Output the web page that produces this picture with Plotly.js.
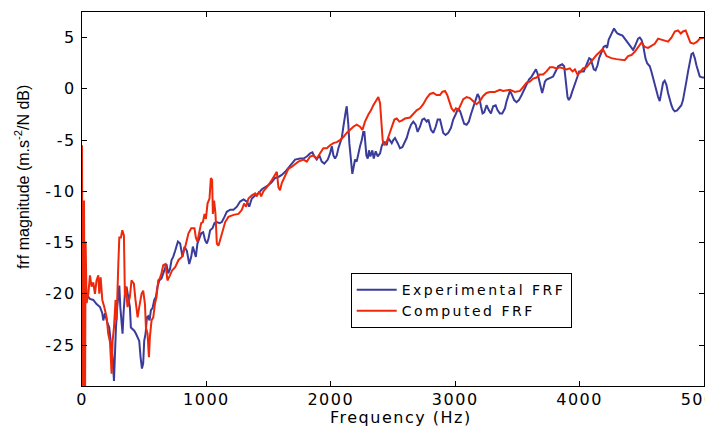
<!DOCTYPE html>
<html>
<head>
<meta charset="utf-8">
<script src="https://cdn.plot.ly/plotly-3.0.1.min.js"></script>
<style>
html,body{margin:0;padding:0;background:#fff;}
.xtick text, .ytick text {letter-spacing:1.5px;}
.legendtext {letter-spacing:2.5px;}
</style>
</head>
<body>
<div id="chart" style="width:705px;height:428px;"></div>
<script>
// Experimental FRF (blue)
const expFreq = [3,24,45,64,91,117,145,163,171,185,203,219,233,246,257,265,273,283,292,300,308,318,326,334,345,358,372,385,393,404,420,434,447,460,471,482,492,500,511,522,532,543,554,567,581,594,607,621,639,653,666,679,693,707,720,733,749,771,789,808,824,843,862,878,891,904,915,928,942,958,974,990,1004,1017,1030,1049,1065,1084,1105,1124,1145,1164,1191,1218,1245,1271,1298,1325,1344,1365,1392,1418,1446,1472,1499,1526,1552,1579,1606,1633,1659,1687,1713,1753,1780,1807,1834,1852,1868,1887,1908,1927,1948,1976,1994,2008,2021,2034,2048,2061,2074,2088,2101,2109,2120,2128,2136,2141,2149,2157,2165,2173,2184,2195,2208,2221,2235,2249,2261,2270,2278,2286,2297,2307,2318,2334,2345,2361,2377,2396,2409,2422,2436,2449,2462,2476,2490,2502,2516,2538,2556,2575,2591,2610,2629,2645,2663,2682,2698,2717,2735,2751,2771,2784,2805,2824,2843,2859,2878,2891,2904,2923,2944,2966,2984,3003,3024,3040,3056,3072,3092,3110,3126,3145,3164,3180,3193,3207,3220,3233,3252,3271,3287,3305,3325,3341,3359,3378,3400,3413,3426,3440,3453,3474,3493,3512,3534,3555,3574,3593,3614,3635,3649,3662,3675,3689,3699,3710,3721,3734,3747,3769,3787,3801,3815,3828,3841,3860,3876,3887,3895,3903,3913,3927,3940,3956,3970,3983,3996,4015,4034,4047,4063,4077,4090,4101,4114,4128,4144,4157,4176,4194,4210,4221,4234,4251,4264,4277,4291,4304,4323,4345,4363,4382,4403,4417,4430,4443,4457,4470,4484,4497,4510,4518,4529,4543,4564,4577,4591,4604,4618,4631,4644,4658,4671,4684,4698,4711,4725,4738,4751,4765,4784,4805,4818,4831,4845,4858,4872,4885,4899,4912,4926,4939,4952,4966,4987,5000];
const expDb = [-20.6,-20.3,-20.2,-20.5,-20.6,-21.0,-21.3,-21.9,-22.6,-21.9,-22.8,-23.3,-24.9,-26.2,-28.5,-25.2,-23.3,-21.3,-20.0,-19.2,-21.3,-22.6,-23.9,-21.9,-20.0,-19.3,-20.6,-21.3,-23.3,-23.4,-23.6,-23.9,-24.2,-24.6,-26.2,-27.3,-26.8,-24.6,-23.9,-22.3,-22.2,-22.6,-21.6,-21.4,-20.6,-20.3,-19.3,-18.7,-18.5,-18.0,-17.4,-17.1,-18.0,-17.6,-16.7,-16.4,-15.8,-14.9,-15.1,-16.4,-15.4,-15.8,-17.1,-16.4,-15.4,-16.1,-16.4,-15.1,-14.6,-14.1,-14.0,-14.8,-15.1,-14.6,-13.8,-13.6,-13.1,-13.0,-13.1,-13.0,-12.5,-12.0,-11.8,-11.8,-11.5,-11.0,-10.8,-11.0,-11.5,-10.7,-10.4,-10.2,-9.8,-9.6,-9.4,-9.1,-8.7,-8.6,-8.4,-8.1,-7.7,-7.3,-6.9,-6.8,-6.8,-6.6,-6.3,-6.2,-6.6,-6.9,-6.5,-7.1,-7.3,-6.9,-6.3,-5.6,-6.5,-6.8,-6.5,-5.8,-5.3,-4.8,-3.7,-2.9,-2.2,-1.7,-2.5,-3.5,-5.3,-6.6,-7.6,-8.3,-7.6,-6.9,-7.1,-6.3,-5.6,-5.0,-4.2,-4.2,-5.3,-6.5,-6.8,-6.0,-6.6,-6.0,-6.8,-6.1,-6.6,-6.3,-5.6,-5.2,-5.2,-5.5,-4.8,-5.0,-5.3,-5.0,-4.8,-5.3,-5.8,-5.7,-5.2,-4.8,-4.0,-3.5,-3.2,-3.5,-4.2,-3.7,-3.0,-2.9,-3.2,-3.0,-4.0,-4.3,-3.7,-3.0,-3.0,-3.7,-4.3,-4.5,-4.3,-3.8,-3.0,-2.5,-1.9,-2.2,-2.9,-3.4,-3.5,-3.2,-2.5,-1.7,-1.1,-0.5,-0.8,-1.7,-2.4,-2.3,-1.6,-2.1,-2.4,-1.7,-1.6,-2.1,-2.4,-2.4,-1.9,-1.2,-0.6,-0.2,-0.5,-1.1,-1.3,-1.1,-0.6,-0.1,0.4,0.9,1.2,1.7,1.9,1.5,0.9,0.2,-0.4,0.1,0.7,0.9,1.0,1.1,1.2,1.5,1.9,2.2,2.3,2.4,2.2,1.2,0.1,-0.8,-1.1,-0.8,-0.3,0.2,0.6,1.2,1.7,1.7,1.7,2.1,2.7,3.0,2.9,2.4,1.9,1.8,2.3,3.0,3.5,4.1,4.2,4.0,4.8,5.3,5.7,5.9,5.6,5.4,5.3,5.2,4.9,4.6,4.3,4.0,3.8,4.1,4.5,4.9,5.0,4.8,4.3,3.6,3.0,2.5,2.2,1.7,1.0,0.6,-0.1,-0.8,-1.2,-0.4,0.6,0.8,0.4,-0.4,-1.1,-1.6,-2.0,-2.2,-2.1,-1.8,-1.6,-1.1,-0.3,0.7,1.7,2.7,3.4,3.5,3.0,2.3,1.7,1.2,1.1,1.1];

// Computed FRF (red)
const compFreq = [0,5,16,24,29,37,51,64,77,91,104,117,131,139,150,163,179,198,211,225,238,246,257,270,278,286,292,300,313,324,337,345,353,366,385,398,417,430,447,460,479,492,506,514,527,538,546,559,573,586,599,613,626,639,653,671,687,707,725,749,776,803,830,856,878,904,915,928,942,958,972,985,996,1009,1025,1036,1046,1052,1062,1073,1084,1097,1116,1132,1151,1177,1218,1258,1285,1303,1319,1338,1365,1392,1405,1424,1440,1458,1486,1526,1552,1566,1579,1592,1606,1633,1659,1687,1713,1739,1780,1807,1834,1860,1887,1914,1940,1968,1994,2021,2048,2074,2101,2128,2155,2181,2208,2235,2254,2275,2302,2323,2342,2361,2382,2396,2409,2417,2428,2449,2468,2490,2511,2530,2551,2570,2596,2637,2663,2690,2717,2743,2771,2797,2824,2851,2878,2896,2918,2936,2952,2971,2990,3006,3024,3044,3065,3092,3118,3145,3172,3199,3225,3252,3279,3319,3359,3386,3426,3440,3480,3521,3547,3574,3600,3627,3654,3681,3707,3734,3761,3787,3815,3841,3868,3895,3921,3943,3962,3983,4002,4028,4055,4082,4109,4136,4162,4186,4216,4256,4296,4337,4363,4390,4417,4443,4470,4497,4524,4550,4577,4604,4631,4658,4684,4711,4738,4765,4791,4813,4831,4853,4872,4891,4917,4944,4966,4987,5000];
const compDb = [-5.5,-32,-10.9,-32,-14.9,-20.9,-20.0,-18.2,-19.3,-18.9,-20.0,-18.7,-18.2,-20.0,-18.4,-20.6,-21.3,-22.3,-23.9,-24.7,-27.8,-24.6,-23.3,-20.6,-22.6,-20.3,-17.1,-14.5,-14.5,-13.8,-14.3,-20.3,-19.3,-21.3,-20.3,-18.7,-19.0,-20.6,-22.3,-21.3,-20.0,-19.7,-21.0,-23.3,-23.9,-26.2,-24.2,-22.6,-22.3,-21.0,-20.3,-18.7,-18.5,-18.0,-17.2,-17.1,-18.7,-18.2,-17.7,-17.4,-16.7,-16.4,-15.4,-14.1,-13.6,-13.6,-14.5,-14.9,-14.1,-13.1,-13.0,-12.2,-12.7,-11.2,-10.7,-8.7,-8.9,-12.2,-10.9,-12.2,-15.1,-15.3,-14.5,-13.8,-13.0,-12.5,-12.3,-12.2,-11.8,-11.2,-11.5,-10.7,-10.4,-10.2,-10.5,-10.0,-10.5,-10.0,-9.6,-8.9,-8.4,-8.1,-9.6,-9.9,-9.2,-8.5,-7.8,-7.6,-7.3,-7.1,-6.9,-7.1,-6.6,-6.5,-6.8,-6.3,-5.8,-5.8,-5.5,-5.3,-5.2,-5.0,-4.7,-4.3,-4.0,-3.7,-3.5,-3.7,-4.0,-3.2,-2.5,-2.1,-1.6,-1.2,-0.8,-1.4,-3.7,-5.0,-5.5,-5.2,-4.5,-3.7,-3.0,-2.9,-3.2,-3.1,-2.9,-2.8,-2.4,-2.1,-1.9,-1.5,-0.9,-0.5,-0.4,-0.6,-0.6,-0.3,-0.2,-0.6,-1.2,-1.9,-2.2,-1.9,-2.1,-1.6,-1.0,-0.8,-0.9,-1.2,-1.5,-1.2,-0.7,-0.4,-0.3,-0.3,-0.1,-0.2,-0.1,-0.1,-0.3,-0.2,0.2,0.6,0.7,1.0,1.1,1.4,1.4,1.7,2.1,2.1,2.0,2.1,2.0,1.9,2.0,1.7,1.9,1.4,1.6,2.0,2.1,2.5,3.0,3.3,3.6,3.9,3.2,3.0,2.9,2.8,2.8,3.2,3.3,3.6,4.0,4.5,4.1,4.0,4.2,4.4,4.9,4.8,4.7,4.6,5.0,5.6,5.7,5.4,5.6,5.7,5.1,4.5,4.4,4.6,4.9,5.0,5.0];

const seriesNames = ["Experimental FRF", "Computed FRF"];
const xTickVals = [0, 1000, 2000, 3000, 4000, 5000];
const xTickText = ["0", "1000", "2000", "3000", "4000", "5000"];
const yTickVals = [-25, -20, -15, -10, -5, 0, 5];
const yTickText = ["-25", "-20", "-15", "-10", "-5", "0", "5"];

const tickFont = {family: "DejaVu Sans", size: 16, color: "#000"};

const traces = [
  {x: expFreq, y: expDb, name: seriesNames[0], type: "scatter", mode: "lines",
   line: {color: "rgb(58,60,155)", width: 2}},
  {x: compFreq, y: compDb, name: seriesNames[1], type: "scatter", mode: "lines",
   line: {color: "rgb(238,40,10)", width: 2}}
];

const layout = {
  width: 705, height: 428,
  margin: {l: 82, r: 1, t: 12, b: 42, pad: 0},
  paper_bgcolor: "#fff", plot_bgcolor: "#fff",
  showlegend: true,
  legend: {x: 0.432, y: 0.302, xanchor: "left", yanchor: "top",
           bgcolor: "#fff", bordercolor: "#000", borderwidth: 1,
           font: {family: "DejaVu Sans", size: 14, color: "#000"},
           tracegroupgap: 0, itemwidth: 40},
  xaxis: {range: [0, 5000], tickvals: xTickVals, ticktext: xTickText,
          showgrid: false, zeroline: false, showline: true, linecolor: "#000", linewidth: 1,
          mirror: "ticks", ticks: "inside", ticklen: 5, tickcolor: "#000",
          tickfont: tickFont, ticklabelstandoff: -1, ticklabeloverflow: "allow"},
  yaxis: {range: [-29, 7.5], tickvals: yTickVals, ticktext: yTickText,
          showgrid: false, zeroline: false, showline: true, linecolor: "#000", linewidth: 1,
          mirror: "ticks", ticks: "inside", ticklen: 5, tickcolor: "#000",
          tickfont: tickFont, ticklabelstandoff: 2},
  annotations: [
    {text: '<span style="letter-spacing:1.5px">Frequency (Hz)</span>', xref: "paper", yref: "paper",
     x: 0.513, y: -0.085, xanchor: "center", yanchor: "middle", showarrow: false,
     font: {family: "DejaVu Sans", size: 16, color: "#000"}},
    {text: "frf magnitude (m.s<sup>-2</sup>/N dB)", xref: "paper", yref: "paper",
     x: -0.0965, y: 0.559, xanchor: "center", yanchor: "middle", showarrow: false, textangle: -90,
     font: {family: "Liberation Sans", size: 16, color: "#000"}}
  ]
};

Plotly.newPlot("chart", traces, layout, {displayModeBar: false, staticPlot: true});
</script>
</body>
</html>
